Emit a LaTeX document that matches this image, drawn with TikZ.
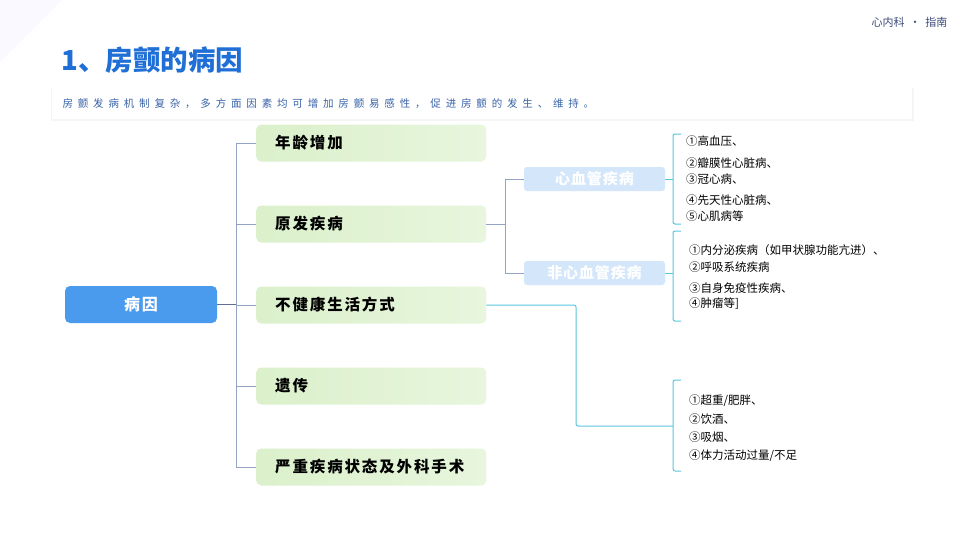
\documentclass[tikz,border=0pt]{standalone}
\usepackage{fontspec}
\setmainfont{Noto Sans CJK SC}
\usetikzlibrary{positioning}

\definecolor{titleblue}{HTML}{1F6FD6}
\definecolor{subblue}{HTML}{3A63A8}
\definecolor{hdrblue}{HTML}{3B4A7A}
\definecolor{rootblue}{HTML}{4A9BEE}
\definecolor{greenL}{HTML}{DBF0CB}
\definecolor{greenR}{HTML}{E7F6DD}
\definecolor{paleblue}{HTML}{D3E6FA}
\definecolor{trunkgray}{HTML}{93A3C6}
\definecolor{cyanline}{HTML}{5AC6DF}

\begin{document}
\begin{tikzpicture}[x=1pt,y=-1pt,
  root/.style={fill=rootblue,rounded corners=5pt,minimum width=152pt,minimum height=37pt,
    text=white,font=\fontsize{16}{18}\selectfont\bfseries\addfontfeature{LetterSpace=10}},
  cause/.style={left color=greenL,right color=greenR,rounded corners=5pt,anchor=west,
    minimum height=37pt,text width=192pt,inner xsep=19pt,align=left,
    font=\fontsize{15.5}{18}\selectfont\bfseries\addfontfeature{LetterSpace=12}},
  kind/.style={fill=paleblue,rounded corners=3pt,minimum width=141pt,minimum height=24pt,
    text=white,font=\fontsize{15}{17}\selectfont\bfseries\addfontfeature{LetterSpace=6}},
  item/.style={anchor=west,inner sep=0pt,text=black,font=\fontsize{11.5}{13}\selectfont},
  trunk/.style={draw=trunkgray,line width=0.9pt},
  brace/.style={draw=cyanline,line width=1pt,rounded corners=2pt}]

  \useasboundingbox (0,0) rectangle (966,543);
  \fill[white] (0,0) rectangle (966,543);
  \fill[blue!2.5] (0,0) -- (62,0) -- (0,62) -- cycle;

  \pgfmathsetmacro\vstep{81}    % distance between cause boxes
  \pgfmathsetmacro\ytop{143}

% header and title
  \node[anchor=east,text=hdrblue,font=\fontsize{11}{12}\selectfont] (hdr) at (951,22) {心内科~~•~~指南};
  \node[anchor=west,text=titleblue,font=\fontsize{27.5}{30}\selectfont\bfseries] (title) at (58,60) {1、房颤的病因};
  \fill[black!4] (51,88) rectangle (914,121);
  \fill[white] (52,88) rectangle (912,119);
  \node[anchor=west,text=subblue,font=\fontsize{10.5}{12}\selectfont\addfontfeature{LetterSpace=46}] (intro) at (59,104)
    {房颤发病机制复杂，多方面因素均可增加房颤易感性，促进房颤的发生、维持。};

% root and causes
  \node[root] (root) at (141,304.5) {病因};
  \node[cause] (age)  at (256,\ytop) {年龄增加};
  \node[cause] (prim) at (256,\ytop+\vstep) {原发疾病};
  \node[cause] (life) at (256,\ytop+2*\vstep) {不健康生活方式};
  \node[cause] (gene) at (256,\ytop+3*\vstep) {遗传};
  \node[cause] (surg) at (256,\ytop+4*\vstep) {严重疾病状态及外科手术};

  \coordinate (tk) at (236,0);
  \draw[trunk] (age.west) -- (age.west -| tk) -- (surg.west -| tk) -- (surg.west);
  \foreach \n in {prim,life,gene}
    \draw[trunk] (\n.west) -- (\n.west -| tk);
  \draw[draw=hdrblue!80,line width=0.9pt] (root.east) -- (root.east -| tk);

% primary diseases
  \node[kind] (cvd)  at (594.5,179) {心血管疾病};
  \node[kind] (ncvd) at (594.5,273) {非心血管疾病};
  \coordinate (pk) at (505,0);
  \draw[trunk] (prim.east) -- (prim.east -| pk);
  \draw[trunk] (cvd.west) -- (cvd.west -| pk) -- (ncvd.west -| pk) -- (ncvd.west);

  \coordinate (bx) at (673,0);
  \coordinate (b1t) at (681,134);
  \coordinate (b1b) at (681,224);
  \coordinate (b2t) at (681,231);
  \coordinate (b2b) at (681,321);
  \coordinate (b3t) at (681,380);
  \coordinate (b3b) at (681,471);
  \draw[brace] (b1t) -- (b1t -| bx) -- (b1b -| bx) -- (b1b);
  \draw[brace] (b2t) -- (b2t -| bx) -- (b2b -| bx) -- (b2b);
  \draw[brace] (b3t) -- (b3t -| bx) -- (b3b -| bx) -- (b3b);
  \draw[brace] (cvd.east) -- (cvd.east -| bx);
  \draw[brace] (ncvd.east) -- (ncvd.east -| bx);

  \node[item] (c1) at (686,141) {①高血压、};
  \node[item] (c2) at (686,163) {②瓣膜性心脏病、};
  \node[item] (c3) at (686,179) {③冠心病、};
  \node[item] (c4) at (686,200) {④先天性心脏病、};
  \node[item] (c5) at (686,216) {⑤心肌病等};

  \node[item] (n1) at (689,250) {①内分泌疾病（如甲状腺功能亢进）、};
  \node[item] (n2) at (689,267) {②呼吸系统疾病};
  \node[item] (n3) at (689,288) {③自身免疫性疾病、};
  \node[item] (n4) at (689,304) {④肿瘤等]};

% lifestyle
  \coordinate (lk) at (576,0);
  \coordinate (b3m) at (673,426);
  \draw[brace] (life.east) -- (life.east -| lk) -- (lk |- b3m) -- (b3m);

  \node[item] (l1) at (689,401) {①超重/肥胖、};
  \node[item] (l2) at (689,419) {②饮酒、};
  \node[item] (l3) at (689,437) {③吸烟、};
  \node[item] (l4) at (689,456) {④体力活动过量/不足};

\end{tikzpicture}
\end{document}
